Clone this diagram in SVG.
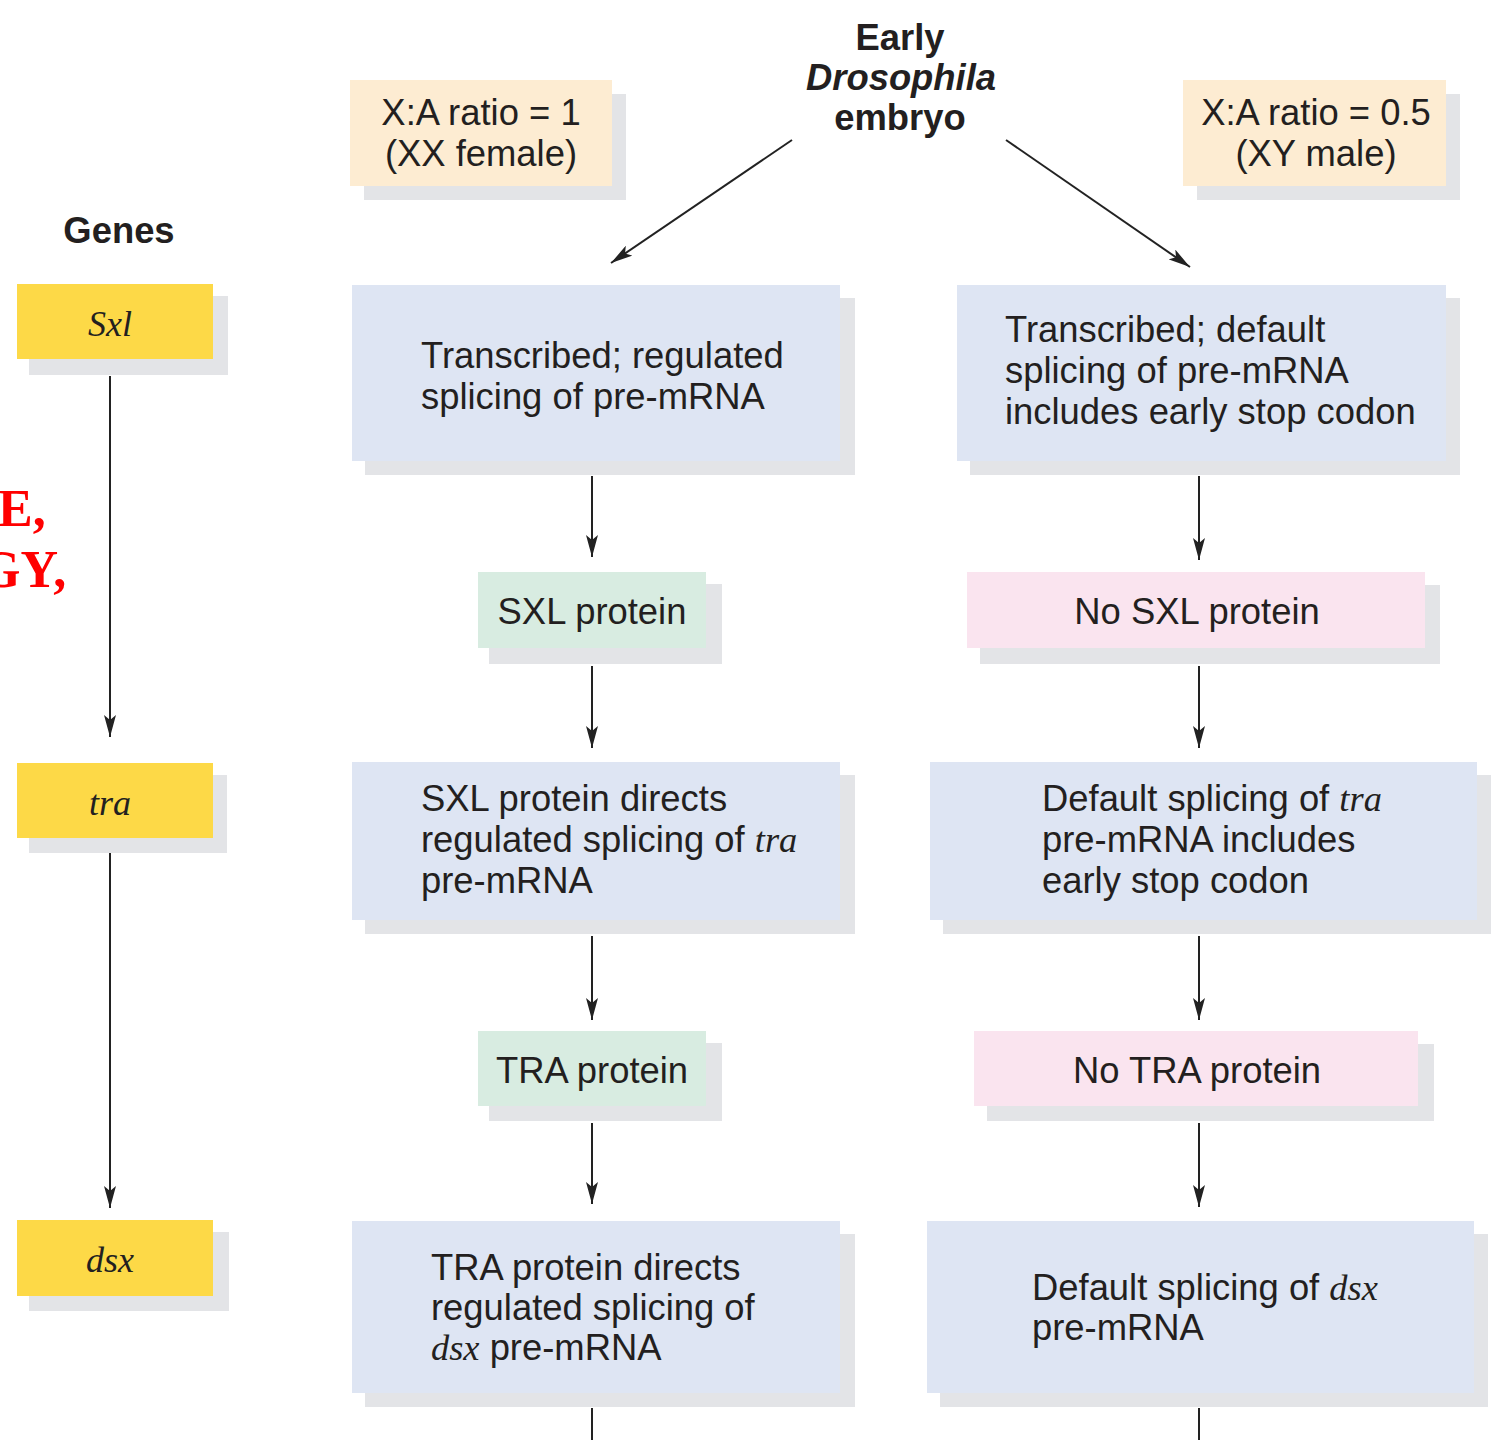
<svg xmlns="http://www.w3.org/2000/svg" width="1499" height="1440" viewBox="0 0 1499 1440">
<defs>
<marker id="ah" markerUnits="userSpaceOnUse" markerWidth="22" markerHeight="12" refX="22" refY="6" viewBox="0 0 22 12" orient="auto">
<path d="M0,0 L22,6 L0,12 L5,6 Z" fill="#222"/>
</marker>
</defs>
<style>
.t{font-family:"Liberation Sans",Arial,sans-serif;font-size:36.4px;fill:#231f20}
.b{font-weight:bold}
.i{font-family:"Liberation Serif","Times New Roman",serif;font-style:italic}
.g{font-family:"Liberation Serif","Times New Roman",serif;font-style:italic;font-size:36px;fill:#231f20}
.sh{fill:#e3e4e7}
.yel{fill:#fdd947}
.pch{fill:#fdecd2}
.blu{fill:#dee5f3}
.grn{fill:#d8ece1}
.pnk{fill:#fae4ef}
.red{font-family:"Liberation Serif","Times New Roman",serif;font-weight:bold;font-size:52px;fill:#ff0000}
.c{stroke:#222;stroke-width:2;fill:none;marker-end:url(#ah)}
</style>
<rect width="1499" height="1440" fill="#ffffff"/>

<g id="red-text">
<text class="red" x="-2" y="526">E,</text>
<text class="red" x="-20" y="587">GY,</text>
</g>

<g id="embryo">
<text class="t b" x="900" y="50" text-anchor="middle">Early</text>
<text class="t b" x="901" y="90" text-anchor="middle" font-style="italic">Drosophila</text>
<text class="t b" x="900" y="130" text-anchor="middle">embryo</text>
</g>

<g id="xx-female">
<rect class="sh" x="364" y="94" width="262" height="106"/>
<rect class="pch" x="350" y="80" width="262" height="106"/>
<text class="t" x="481" y="125" text-anchor="middle">X:A ratio = 1</text>
<text class="t" x="481" y="166" text-anchor="middle">(XX female)</text>
</g>

<g id="xy-male">
<rect class="sh" x="1197" y="94" width="263" height="106"/>
<rect class="pch" x="1183" y="80" width="263" height="106"/>
<text class="t" x="1316" y="125" text-anchor="middle">X:A ratio = 0.5</text>
<text class="t" x="1316" y="166" text-anchor="middle">(XY male)</text>
</g>

<g id="genes-label">
<text class="t b" x="119" y="243" text-anchor="middle">Genes</text>
</g>

<g id="gene-sxl">
<rect class="sh" x="29" y="296" width="199" height="79"/>
<rect class="yel" x="17" y="284" width="196" height="75"/>
<text class="g" x="110" y="336" text-anchor="middle">Sxl</text>
</g>

<g id="gene-tra">
<rect class="sh" x="29" y="775" width="198" height="78"/>
<rect class="yel" x="17" y="763" width="196" height="75"/>
<text class="g" x="110" y="815" text-anchor="middle">tra</text>
</g>

<g id="gene-dsx">
<rect class="sh" x="29" y="1232" width="200" height="79"/>
<rect class="yel" x="17" y="1220" width="196" height="76"/>
<text class="g" x="110" y="1272" text-anchor="middle">dsx</text>
</g>

<g id="f-transcribed">
<rect class="sh" x="365" y="298" width="490" height="177"/>
<rect class="blu" x="352" y="285" width="488" height="176"/>
<text class="t" x="421" y="368">Transcribed; regulated</text>
<text class="t" x="421" y="409">splicing of pre-mRNA</text>
</g>

<g id="m-transcribed">
<rect class="sh" x="970" y="298" width="490" height="177"/>
<rect class="blu" x="957" y="285" width="489" height="176"/>
<text class="t" x="1005" y="342">Transcribed; default</text>
<text class="t" x="1005" y="383">splicing of pre-mRNA</text>
<text class="t" x="1005" y="424">includes early stop codon</text>
</g>

<g id="f-sxl-protein">
<rect class="sh" x="489" y="584" width="233" height="80"/>
<rect class="grn" x="478" y="572" width="228" height="76"/>
<text class="t" x="592" y="624" text-anchor="middle">SXL protein</text>
</g>

<g id="m-no-sxl">
<rect class="sh" x="980" y="585" width="460" height="79"/>
<rect class="pnk" x="967" y="572" width="458" height="76"/>
<text class="t" x="1197" y="624" text-anchor="middle">No SXL protein</text>
</g>

<g id="f-tra-splicing">
<rect class="sh" x="365" y="775" width="490" height="159"/>
<rect class="blu" x="352" y="762" width="488" height="158"/>
<text class="t" x="421" y="811">SXL protein directs</text>
<text class="t" x="421" y="852">regulated splicing of <tspan class="i">tra</tspan></text>
<text class="t" x="421" y="893">pre-mRNA</text>
</g>

<g id="m-tra-splicing">
<rect class="sh" x="943" y="775" width="548" height="159"/>
<rect class="blu" x="930" y="762" width="547" height="158"/>
<text class="t" x="1042" y="811">Default splicing of <tspan class="i">tra</tspan></text>
<text class="t" x="1042" y="852">pre-mRNA includes</text>
<text class="t" x="1042" y="893">early stop codon</text>
</g>

<g id="f-tra-protein">
<rect class="sh" x="489" y="1043" width="233" height="78"/>
<rect class="grn" x="478" y="1031" width="228" height="75"/>
<text class="t" x="592" y="1083" text-anchor="middle">TRA protein</text>
</g>

<g id="m-no-tra">
<rect class="sh" x="987" y="1044" width="447" height="77"/>
<rect class="pnk" x="974" y="1031" width="444" height="75"/>
<text class="t" x="1197" y="1083" text-anchor="middle">No TRA protein</text>
</g>

<g id="f-dsx-splicing">
<rect class="sh" x="365" y="1234" width="490" height="173"/>
<rect class="blu" x="352" y="1221" width="488" height="172"/>
<text class="t" x="431" y="1280">TRA protein directs</text>
<text class="t" x="431" y="1320">regulated splicing of</text>
<text class="t" x="431" y="1360"><tspan class="i">dsx</tspan> pre-mRNA</text>
</g>

<g id="m-dsx-splicing">
<rect class="sh" x="940" y="1234" width="548" height="173"/>
<rect class="blu" x="927" y="1221" width="547" height="172"/>
<text class="t" x="1032" y="1300">Default splicing of <tspan class="i">dsx</tspan></text>
<text class="t" x="1032" y="1340">pre-mRNA</text>
</g>

<g id="connectors">
<line class="c" x1="792" y1="140" x2="611" y2="263"/>
<line class="c" x1="1006" y1="140" x2="1190" y2="267"/>
<line class="c" x1="110" y1="376" x2="110" y2="737"/>
<line class="c" x1="110" y1="853" x2="110" y2="1208"/>
<line class="c" x1="592" y1="476" x2="592" y2="557"/>
<line class="c" x1="592" y1="666" x2="592" y2="748"/>
<line class="c" x1="592" y1="936" x2="592" y2="1020"/>
<line class="c" x1="592" y1="1123" x2="592" y2="1204"/>
<line x1="592" y1="1408" x2="592" y2="1440" stroke="#222" stroke-width="2"/>
<line class="c" x1="1199" y1="476" x2="1199" y2="560"/>
<line class="c" x1="1199" y1="666" x2="1199" y2="748"/>
<line class="c" x1="1199" y1="936" x2="1199" y2="1020"/>
<line class="c" x1="1199" y1="1123" x2="1199" y2="1207"/>
<line x1="1199" y1="1408" x2="1199" y2="1440" stroke="#222" stroke-width="2"/>
</g>
</svg>
